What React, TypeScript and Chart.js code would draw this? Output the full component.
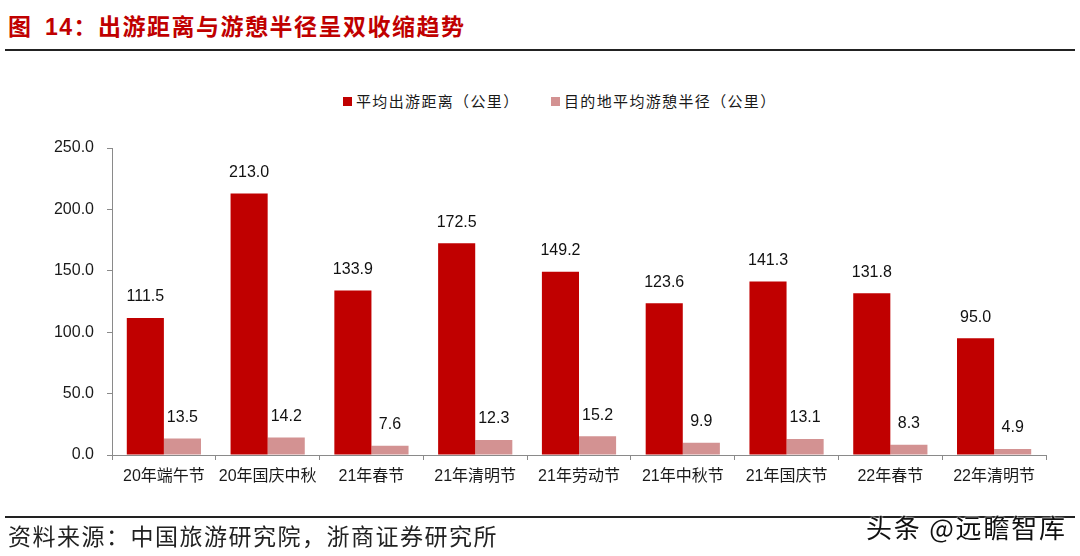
import React, { useEffect, useRef } from "react";
import { Chart, registerables } from "chart.js";

Chart.register(...registerables);

const categories = [
  "20年端午节",
  "20年国庆中秋",
  "21年春节",
  "21年清明节",
  "21年劳动节",
  "21年中秋节",
  "21年国庆节",
  "22年春节",
  "22年清明节",
];
const travelDistance = [111.5, 213.0, 133.9, 172.5, 149.2, 123.6, 141.3, 131.8, 95.0];
const leisureRadius = [13.5, 14.2, 7.6, 12.3, 15.2, 9.9, 13.1, 8.3, 4.9];
const seriesNames = ["平均出游距离（公里）", "目的地平均游憩半径（公里）"];
const seriesColors = ["#C00000", "#D39292"];
const yTicks = { min: 0, max: 250, step: 50 };

const CJK = '"Liberation Sans", Arial, "Noto Sans CJK SC", sans-serif';

const valueLabels = {
  id: "valueLabels",
  afterDatasetsDraw(chart: any) {
    const ctx = chart.ctx;
    ctx.save();
    ctx.font = `16px ${CJK}`;
    ctx.fillStyle = "#111";
    ctx.textAlign = "center";
    ctx.textBaseline = "middle";
    chart.data.datasets.forEach((ds: any, i: number) => {
      const meta = chart.getDatasetMeta(i);
      meta.data.forEach((bar: any, j: number) => {
        ctx.fillText(Number(ds.data[j]).toFixed(1), bar.x, bar.y - 21);
      });
    });
    ctx.restore();
  },
};

export default function App() {
  const ref = useRef<HTMLCanvasElement>(null);
  useEffect(() => {
    const chart = new Chart(ref.current!, {
      type: "bar",
      data: {
        labels: categories,
        datasets: [
          {
            label: seriesNames[0],
            data: travelDistance,
            backgroundColor: seriesColors[0],
            categoryPercentage: 0.715,
            barPercentage: 1.0,
          },
          {
            label: seriesNames[1],
            data: leisureRadius,
            backgroundColor: seriesColors[1],
            categoryPercentage: 0.715,
            barPercentage: 1.0,
          },
        ],
      },
      options: {
        responsive: false,
        animation: false,
        layout: { padding: { top: 148, left: 0, right: 34, bottom: 61 } },
        plugins: {
          legend: { display: false },
          tooltip: { enabled: false },
          title: { display: false },
        },
        scales: {
          x: {
            offset: true,
            grid: {
              offset: true,
              drawOnChartArea: false,
              drawTicks: true,
              tickLength: 5,
              color: "#8a8a8a",
            },
            border: { color: "#8a8a8a", width: 1 },
            ticks: {
              color: "#1a1a1a",
              font: { size: 16, family: CJK },
              padding: 7,
              maxRotation: 0,
              autoSkip: false,
            },
            afterFit(scale: any) {
              scale.height = 40;
            },
          },
          y: {
            min: yTicks.min,
            max: yTicks.max,
            grid: {
              drawOnChartArea: false,
              drawTicks: true,
              tickLength: 5,
              color: "#8a8a8a",
            },
            border: { color: "#8a8a8a", width: 1 },
            ticks: {
              stepSize: yTicks.step,
              color: "#1a1a1a",
              font: { size: 16, family: CJK },
              padding: 13,
              callback: (v: any) => Number(v).toFixed(1),
            },
            afterFit(scale: any) {
              scale.width = 112;
            },
          },
        },
      },
      plugins: [valueLabels],
    });
    return () => chart.destroy();
  }, []);

  const legendItem = (i: number, left: number) => (
    <div
      style={{
        position: "absolute",
        left,
        top: 91,
        height: 20,
        display: "flex",
        alignItems: "center",
        whiteSpace: "nowrap",
      }}
    >
      <span
        style={{
          display: "inline-block",
          width: 9,
          height: 9,
          background: seriesColors[i],
          marginRight: 4,
        }}
      />
      <span
        style={{
          fontFamily: '"Noto Sans CJK SC", sans-serif',
          fontSize: 15,
          letterSpacing: 1.35,
          color: "#1a1a1a",
          lineHeight: "20px",
        }}
      >
        {seriesNames[i]}
      </span>
    </div>
  );

  return (
    <div
      style={{
        position: "absolute",
        left: 0,
        top: 0,
        width: 1080,
        height: 556,
        background: "#fff",
        overflow: "hidden",
      }}
    >
      <div
        style={{
          position: "absolute",
          left: 8,
          top: 12,
          height: 30,
          lineHeight: "30px",
          color: "#C00000",
          fontWeight: "bold",
          fontSize: 23,
          fontFamily: '"Liberation Sans", Arial, "Noto Sans CJK SC", sans-serif',
          whiteSpace: "nowrap",
        }}
      >
        <span>图</span>
        <span style={{ marginLeft: 14, letterSpacing: 1.5 }}>14：出游距离与游憩半径呈双收缩趋势</span>
      </div>
      <div
        style={{
          position: "absolute",
          left: 5,
          top: 49,
          width: 1070,
          height: 2,
          background: "#222",
        }}
      />
      {legendItem(0, 343)}
      {legendItem(1, 551)}
      <canvas
        ref={ref}
        width={1080}
        height={556}
        style={{ position: "absolute", left: 0, top: 0 }}
      />
      <div
        style={{
          position: "absolute",
          left: 5,
          top: 516,
          width: 1070,
          height: 2,
          background: "#222",
        }}
      />
      <div
        style={{
          position: "absolute",
          left: 8,
          top: 520,
          lineHeight: "30px",
          fontSize: 23,
          letterSpacing: 1.5,
          fontFamily: '"Noto Sans CJK SC", sans-serif',
          color: "#222",
          whiteSpace: "nowrap",
        }}
      >
        资料来源：中国旅游研究院，浙商证券研究所
      </div>
      <div
        style={{
          position: "absolute",
          left: 866,
          top: 512,
          lineHeight: "30px",
          fontSize: 26,
          letterSpacing: 1.8,
          fontFamily: '"Noto Sans CJK SC", sans-serif',
          color: "#111",
          whiteSpace: "nowrap",
          textShadow: "0 0 2px #fff, 0 0 2px #fff",
        }}
      >
        头条 @远瞻智库
      </div>
    </div>
  );
}
